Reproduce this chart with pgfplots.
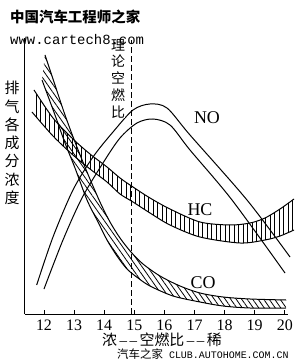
\documentclass[border=0pt]{standalone}
\usepackage{fontspec}
\setmainfont{Liberation Serif}
\newfontfamily\cjk{Noto Sans CJK SC}
\newfontfamily\mono{Liberation Mono}
\usepackage{pgfplots}
\pgfplotsset{compat=1.18}
\usepgfplotslibrary{fillbetween}
\usetikzlibrary{patterns.meta}

\begin{document}
\begin{tikzpicture}
\begin{axis}[
  at={(24.7bp,48bp)}, anchor=south west,
  scale only axis, width=263.3bp, height=276bp,
  xmin=11.359, xmax=20.106, ymin=0, ymax=276,
  axis x line=bottom, axis y line=left,
  axis line style={-, line width=1pt},
  xtick={12,13,14,15,16,17,18,19,20},
  xticklabels={12,13,14,15,16,17,18,19,20},
  ytick=\empty,
  tick align=inside, major tick length=4bp,
  tick style={line width=0.8pt, black},
  xticklabel style={font=\fontsize{16}{16}\selectfont, yshift=-2bp},
  clip=false,
]
% HC band
\addplot[name path=HCu, line width=1pt, smooth] coordinates {
 (11.668,224) (12.299,196) (12.963,175) (13.528,160) (14.093,147) (14.525,136) (14.957,127) (15.522,116) (16.186,105) (17.183,92) (18.179,89) (18.844,91) (19.342,96) (19.841,105) (20.306,115)};
\addplot[name path=HCl, line width=1pt, smooth] coordinates {
 (11.601,202) (12.299,178) (12.963,159) (13.528,145) (14.093,132) (14.525,120) (14.957,112) (15.522,101) (16.186,89) (17.183,77) (18.512,71) (19.342,74) (19.841,78) (20.306,84)};
\addplot[pattern={Lines[angle=90,distance=4.5bp,line width=0.8pt]}, draw=none] fill between[of=HCu and HCl];
% CO band
\addplot[name path=COu, line width=1pt, smooth] coordinates {
 (12.033,259) (12.365,229) (12.698,199) (13.030,172) (13.429,142) (13.860,112) (14.193,92) (14.525,76) (14.890,62) (15.289,50) (15.854,38) (16.518,28) (17.183,21) (17.947,17) (18.844,15) (20.040,14)};
\addplot[name path=COl, line width=1pt, smooth] coordinates {
 (11.934,234) (12.365,199) (12.698,171) (13.030,146) (13.429,114) (13.794,92) (14.093,74) (14.425,58) (14.757,45) (15.123,36) (15.522,28) (16.286,18) (17.183,12) (17.947,8) (18.844,6) (20.040,6)};
\addplot[pattern={Lines[angle=-55,distance=4.5bp,line width=0.8pt]}, draw=none] fill between[of=COu and COl];
% NO band
\addplot[line width=1pt, smooth] coordinates {
 (11.757,29) (12.299,77) (12.963,124) (13.628,157) (14.292,182) (14.957,204) (15.522,210) (16.086,206) (16.850,179) (18.744,114) (20.173,57)};
\addplot[line width=1pt, smooth] coordinates {
 (12.000,25) (12.631,74) (13.262,116) (13.960,151) (14.525,176) (15.090,191) (15.621,195) (16.186,189) (16.850,164) (18.246,114) (20.007,41)};
% stoichiometric line
\addplot[line width=0.8pt, dash pattern=on 6bp off 3bp] coordinates {(14.89,0) (14.89,274)};
\end{axis}
% curve labels
\node[font=\fontsize{18}{18}\selectfont] at (207bp,244bp) {NO};
\node[font=\fontsize{18}{18}\selectfont] at (200bp,152bp) {HC};
\node[font=\fontsize{18}{18}\selectfont] at (203bp,79bp) {CO};
% y label
\node[font={\cjk\fontsize{15}{18.3}\selectfont}, align=center, inner sep=0pt] at (12bp,219bp) {排\\气\\各\\成\\分\\浓\\度};
% stoichiometric label
\node[font={\cjk\fontsize{14}{16.8}\selectfont}, align=center, inner sep=0pt, fill=white] at (118bp,283.5bp) {理\\论\\空\\燃\\比};
% x label
\node[inner sep=0pt] at (162bp,22bp) {{\cjk\fontsize{15}{15}\selectfont 浓}{\fontsize{15}{15}\selectfont\,--\,--\,}{\cjk\fontsize{15}{15}\selectfont 空燃比}{\fontsize{15}{15}\selectfont\,--\,--\,}{\cjk\fontsize{15}{15}\selectfont 稀}};
% watermarks
\node[font={\cjk\bfseries\fontsize{14.5}{14.5}\selectfont}, anchor=west, inner sep=0pt] at (10bp,345bp) {中国汽车工程师之家};
\node[font={\mono\fontsize{14}{14}\selectfont}, anchor=west, inner sep=0pt] at (10bp,322bp) {www.cartech8.com};
\node[anchor=west, inner sep=0pt] at (117bp,8bp) {{\cjk\fontsize{11.5}{11.5}\selectfont 汽车之家}\hspace{6bp}{\mono\fontsize{10}{10}\selectfont CLUB.AUTOHOME.COM.CN}};
\pgfresetboundingbox
\path[use as bounding box] (0bp,0bp) rectangle (300bp,362bp);
\end{tikzpicture}
\end{document}
